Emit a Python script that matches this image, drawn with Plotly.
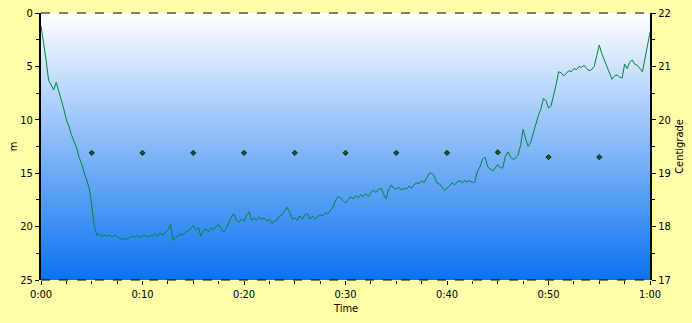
import numpy as np
import plotly.graph_objects as go

# ---- data ----
time_step_min = 0.25
depth_m = [
    1.2, 2.6, 4.4, 6.3, 6.8, 7.2, 6.5, 7.3,
    8.0, 9.0, 10.0, 10.6, 11.4, 12.0, 12.6, 13.5,
    14.1, 14.9, 15.6, 16.4, 18.0, 20.0, 20.8, 20.7,
    20.9, 20.8, 20.9, 20.8, 21.0, 20.8, 20.9, 21.1,
    21.2, 21.1, 21.2, 21.0, 20.9, 21.0, 20.8, 21.0,
    20.9, 20.8, 21.0, 20.8, 20.9, 20.7, 20.9, 20.6,
    20.8, 20.5, 20.3, 19.8, 21.3, 21.0, 20.9, 20.7,
    20.8, 20.5, 20.4, 20.2, 19.9, 20.3, 20.1, 20.9,
    20.4, 20.2, 20.5, 20.1, 20.3, 20.0, 19.8, 20.2,
    20.5, 20.2, 19.6, 19.1, 18.8, 19.4, 19.6, 19.3,
    19.5, 18.9, 18.6, 19.4, 19.2, 19.4, 19.1, 19.3,
    19.2, 19.5, 19.3, 19.7, 19.5, 19.4, 19.0, 18.9,
    18.5, 18.2, 18.7, 19.3, 19.2, 19.4, 19.0, 19.3,
    18.9, 18.8, 19.3, 19.0, 19.3, 19.1, 18.9, 19.0,
    18.7, 18.8, 18.5, 18.2, 17.6, 17.2, 17.3, 17.6,
    17.8, 17.5, 17.2, 17.4, 17.1, 17.3, 17.0, 17.2,
    16.9, 17.2, 16.8, 16.6, 16.8, 16.5, 16.4, 17.0,
    17.4, 16.5, 16.1, 16.4, 16.5, 16.3, 16.6, 16.4,
    16.5, 16.2, 16.4, 16.1, 15.9, 16.0, 15.7, 15.9,
    15.4, 15.0, 15.0, 15.3, 15.9, 16.0, 16.3, 16.6,
    16.4, 16.2, 15.9, 16.1, 15.8, 15.7, 15.9, 15.7,
    15.8, 15.7, 15.9, 15.8, 14.8, 14.4, 13.7, 13.5,
    14.4, 14.6, 14.8, 14.5, 14.2, 14.5, 14.5, 13.4,
    13.0, 13.5, 13.7, 13.6, 13.3, 12.4, 10.9, 11.8,
    12.5, 12.1, 11.2, 10.3, 9.6, 9.0, 8.0, 8.2,
    8.9, 8.7, 7.8, 6.7, 5.5, 5.6, 5.9, 5.6,
    5.4, 5.5, 5.2, 5.3, 5.0, 5.1, 4.9, 5.2,
    5.4, 5.3, 5.0, 4.0, 3.0, 3.8, 4.4, 5.0,
    5.5, 6.2, 5.9, 5.8, 6.0, 6.1, 4.8, 5.2,
    4.6, 4.4, 4.8, 4.9, 5.2, 5.5, 4.3, 3.2,
    1.8,
]
temp_time_min = [5, 10, 15, 20, 25, 30, 35, 40, 45, 50, 55]
temp_c = [19.38, 19.38, 19.38, 19.38, 19.38, 19.38, 19.38, 19.38, 19.39, 19.3, 19.3]
x_tick_vals = [0, 10, 20, 30, 40, 50, 60]
x_tick_text = ["0:00", "0:10", "0:20", "0:30", "0:40", "0:50", "1:00"]

time_min = [i * time_step_min for i in range(len(depth_m))]

FONT = "DejaVu Sans Condensed, Liberation Sans Narrow, Liberation Sans, Arial, sans-serif"
BG = "#FFFFAA"

fig = go.Figure()

# gradient background via heatmap
grad_y = list(np.linspace(0, 25, 51))
fig.add_trace(go.Heatmap(
    x=[0, 60], y=grad_y,
    z=[[v, v] for v in grad_y],
    colorscale=[[0, "#FFFFFF"], [1, "#0A72F0"]],
    zmin=0, zmax=25, zsmooth="best", showscale=False, hoverinfo="skip",
))

fig.add_trace(go.Scatter(
    x=time_min, y=depth_m, mode="lines",
    line=dict(color="#00853A", width=1), showlegend=False,
))

fig.add_trace(go.Scatter(
    x=temp_time_min, y=temp_c, mode="markers", yaxis="y2",
    marker=dict(symbol="diamond", size=4, color="#0E5A2E",
                line=dict(color="#0A2A18", width=1)),
    showlegend=False,
))

fig.update_layout(
    width=692, height=323,
    margin=dict(l=41, r=42, t=13, b=43),
    paper_bgcolor=BG, plot_bgcolor="#80B8F8",
    font=dict(family=FONT, size=11, color="#000000"),
    xaxis=dict(
        range=[0, 60], tickvals=x_tick_vals, ticktext=x_tick_text,
        automargin=False,
        showgrid=True, gridcolor="#808080", griddash="dash", gridwidth=1,
        ticks="outside", ticklen=4, tickcolor="#000000",
        minor=dict(dtick=2.5, tick0=0, ticks="outside", ticklen=3, tickcolor="#000000", showgrid=False),
        showline=False, zeroline=False,
    ),
    yaxis=dict(
        range=[25, 0], dtick=5, tick0=0, automargin=False,
        showgrid=True, gridcolor="#808080", griddash="dash", gridwidth=1,
        ticks="outside", ticklen=4, tickcolor="#000000",
        minor=dict(dtick=2.5, tick0=0, ticks="outside", ticklen=3, tickcolor="#000000", showgrid=False),
        showline=True, linecolor="#000000", linewidth=2, zeroline=False,
        title=dict(text="m", standoff=0, font=dict(size=11)),
    ),
    yaxis2=dict(
        range=[17, 22], dtick=1, tick0=17, overlaying="y", side="right",
        automargin=False,
        showgrid=False, ticks="outside", ticklen=4, tickcolor="#000000",
        minor=dict(dtick=0.5, tick0=17, ticks="outside", ticklen=3, tickcolor="#000000"),
        showline=True, linecolor="#000000", linewidth=2, zeroline=False,
        title=dict(text="Centigrade", standoff=6, font=dict(size=11)),
    ),
    annotations=[
        dict(text="Time", xref="paper", yref="paper", x=0.5, y=-0.075,
             xanchor="center", yanchor="top", showarrow=False,
             font=dict(size=11)),
    ],
    shapes=[
        dict(type="line", xref="paper", yref="paper", x0=0, x1=1, y0=1, y1=1,
             line=dict(color="#000000", width=1, dash="dash"), layer="above"),
        dict(type="line", xref="paper", yref="paper", x0=0, x1=1, y0=0, y1=0,
             line=dict(color="#000000", width=1, dash="dash"), layer="above"),
    ],
)

fig.write_html("out.html")
